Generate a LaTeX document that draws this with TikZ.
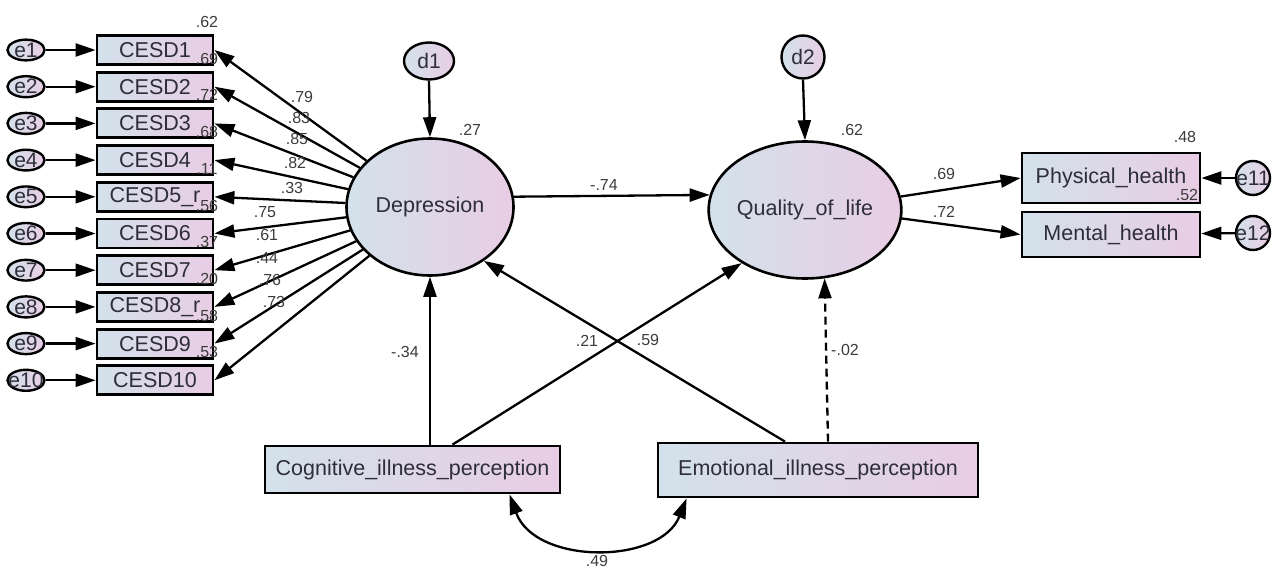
\documentclass[tikz,border=0pt]{standalone}
\usepackage{fontspec}
\setmainfont{Liberation Sans}
\usetikzlibrary{arrows.meta,shapes.geometric}
\definecolor{lblue}{HTML}{D3E1EA}
\definecolor{lpink}{HTML}{E8CDE4}
\definecolor{txt}{HTML}{2E2E3A}
\definecolor{num}{HTML}{3C3C3C}
\begin{document}
\begin{tikzpicture}[x=1pt,y=-1pt,
  >={Triangle[length=20pt,width=13pt]},
  every node/.style={text=txt},
  conn/.style={draw=black,line width=2.3pt,->},
  shadefill/.style={left color=lblue,right color=lpink},
  obs/.style={shadefill,draw=black,line width=2.8pt,inner sep=0pt,font=\fontsize{21.5}{23}\selectfont},
  cesd/.style={obs,minimum width=116pt,minimum height=29pt},
  lat/.style={ellipse,shadefill,draw=black,line width=2.6pt,inner sep=0pt,minimum width=167pt,minimum height=137pt,font=\fontsize{21.5}{23}\selectfont},
  err/.style={ellipse,shadefill,draw=black,line width=2.4pt,inner sep=0pt,minimum width=37pt,minimum height=20pt,font=\fontsize{21}{22}\selectfont},
  val/.style={text=num,font=\fontsize{16}{17}\selectfont,inner sep=0pt},
]
\useasboundingbox (0,0) rectangle (1277,575);

% CESD indicators and errors
\foreach \i/\nm in {1/CESD1,2/CESD2,3/CESD3,4/CESD4,5/CESD5\_r,6/CESD6,7/CESD7,8/CESD8\_r,9/CESD9,10/CESD10}{
  \pgfmathsetmacro\yy{50+36.7*(\i-1)}
  \node[cesd] (c\i) at (155,\yy) {\nm};
  \node[err] (e\i) at (26,\yy) {\makebox[0pt]{e\i}};
}
% R-squared of indicators
\foreach \i/\r in {1/.62,2/.69,3/.72,4/.68,5/.11,6/.56,7/.37,8/.20,9/.58,10/.53}{
  \pgfmathsetmacro\yy{50+36.7*(\i-1)-28}
  \node[val] (r\i) at (207,\yy) {\r};
}

% latent variables
\node[lat] (dep) at (430,207) {Depression};
\node[lat] (qol) at (805,210) {Quality\_of\_life};
\node[err,minimum width=50pt,minimum height=37pt] (d1) at (429,61) {\makebox[0pt]{d1}};
\node[err,circle,minimum size=43pt] (d2) at (803,57) {\makebox[0pt]{d2}};

% outcome indicators
\node[obs,minimum width=178pt,minimum height=50pt] (ph) at (1111,178) {Physical\_health};
\node[obs,minimum width=178pt,minimum height=45pt] (mh) at (1111,234.5) {Mental\_health};
\node[err,circle,minimum size=34pt] (e11) at (1253,178) {\makebox[0pt]{e11}};
\node[err,circle,minimum size=34pt] (e12) at (1253,233) {\makebox[0pt]{e12}};

% illness perceptions
\node[obs,minimum width=295pt,minimum height=47pt] (cog) at (412.5,469.5) {Cognitive\_illness\_perception};
\node[obs,minimum width=320pt,minimum height=54pt] (emo) at (818,470) {Emotional\_illness\_perception};

% connectors
\foreach \i in {1,...,10}{
  \draw[conn] (e\i) -- (c\i);
  \draw[conn] (dep) -- (c\i.east);
}
\draw[conn] (d1.south) -- (dep.north);
\draw[conn] (d2.south) -- (qol.north);
\draw[conn] (dep.7) -- (qol.171);
\draw[conn] (qol.8) -- (ph.west);
\draw[conn] (qol.-5) -- (mh.west);
\draw[conn] (e11) -- (ph);
\draw[conn] (e12) -- (mh);
\draw[conn] (dep.south |- cog.north) -- (dep.south);
\draw[conn] ([xshift=40pt]cog.north) -- (qol.220);
\draw[conn] ([xshift=-33pt]emo.north) -- (dep.-45);
\draw[conn,dash pattern=on 8pt off 5pt] ([xshift=10pt]emo.north) -- (qol.-74);
\draw[conn,<->] ([xshift=97pt]cog.south) .. controls (535,565) and (660,565) .. ([xshift=30pt]emo.south west);

% loadings
\node[val] at (302,97) {.79};
\node[val] at (299,118) {.83};
\node[val] at (297,139) {.85};
\node[val] at (295,163) {.82};
\node[val] at (292,188) {.33};
\node[val] at (265,212) {.75};
\node[val] at (267,235) {.61};
\node[val] at (267,258) {.44};
\node[val] at (270,280) {.76};
\node[val] at (274,302) {.73};

% other coefficients
\node[val] at (470,130) {.27};
\node[val] at (852,130) {.62};
\node[val] at (604,185) {-.74};
\node[val] at (944,174) {.69};
\node[val] at (944,212) {.72};
\node[val] at (1185,137) {.48};
\node[val] at (1187,195) {.52};
\node[val] at (405,352) {-.34};
\node[val] at (587,341) {.21};
\node[val] at (648,340) {.59};
\node[val] at (845,350) {-.02};
\node[val] at (597,561) {.49};
\end{tikzpicture}
\end{document}
